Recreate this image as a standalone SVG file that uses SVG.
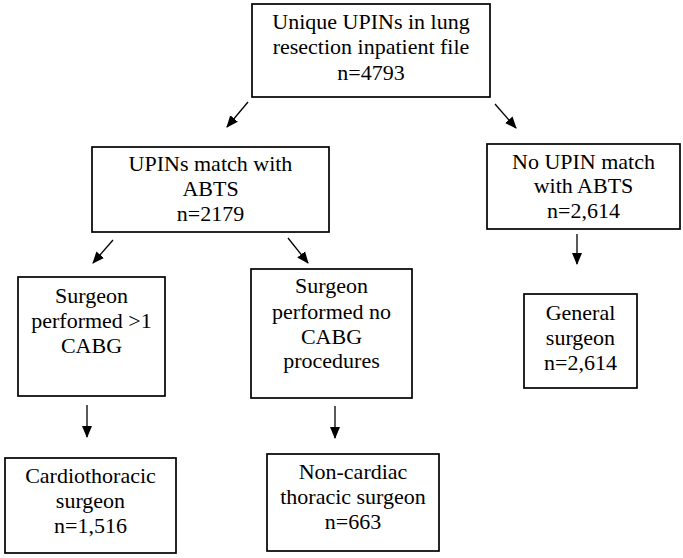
<svg xmlns="http://www.w3.org/2000/svg" width="683" height="558" viewBox="0 0 683 558">
<defs>
<style>
.box{fill:#fff;stroke:#000;stroke-width:1.7}
.t{font-family:'Liberation Serif','DejaVu Serif',serif;font-size:22px;fill:#000;text-anchor:middle}
.c{stroke:#000;stroke-width:1.3;fill:none;marker-end:url(#ah)}
</style>
<marker id="ah" markerUnits="userSpaceOnUse" markerWidth="12" markerHeight="12" viewBox="0 0 12 12" refX="11" refY="6" orient="auto">
<path d="M0,1 L12,6 L0,11 Z" fill="#000"/>
</marker>
</defs>
<rect width="683" height="558" fill="#fff"/>
<g id="connectors">
<line class="c" x1="248" y1="102" x2="227" y2="127"/>
<line class="c" x1="495" y1="104" x2="516" y2="128"/>
<line class="c" x1="113" y1="240" x2="93" y2="263"/>
<line class="c" x1="288" y1="238" x2="308" y2="263"/>
<line class="c" x1="577" y1="234" x2="577" y2="264"/>
<line class="c" x1="87" y1="405" x2="87" y2="437"/>
<line class="c" x1="335" y1="406" x2="335" y2="438"/>
</g>
<g id="n1">
<rect class="box" x="252" y="4" width="238" height="93"/>
<text class="t" x="371" y="29" font-family="Liberation Serif, serif">Unique UPINs in lung</text>
<text class="t" x="371" y="54" font-family="Liberation Serif, serif">resection inpatient file</text>
<text class="t" x="371" y="80" font-family="Liberation Serif, serif">n=4793</text>
</g>
<g id="n2">
<rect class="box" x="92" y="147" width="237" height="85"/>
<text class="t" x="210.5" y="171">UPINs match with</text>
<text class="t" x="210.5" y="196">ABTS</text>
<text class="t" x="210.5" y="221">n=2179</text>
</g>
<g id="n3">
<rect class="box" x="487" y="144" width="193" height="85"/>
<text class="t" x="583.5" y="169">No UPIN match</text>
<text class="t" x="583.5" y="193">with ABTS</text>
<text class="t" x="583.5" y="218">n=2,614</text>
</g>
<g id="n4">
<rect class="box" x="18" y="277" width="147" height="119"/>
<text class="t" x="91.5" y="303">Surgeon</text>
<text class="t" x="91.5" y="328">performed &gt;1</text>
<text class="t" x="91.5" y="353">CABG</text>
</g>
<g id="n5">
<rect class="box" x="251" y="269" width="161" height="129"/>
<text class="t" x="331.5" y="293">Surgeon</text>
<text class="t" x="331.5" y="319">performed no</text>
<text class="t" x="331.5" y="344">CABG</text>
<text class="t" x="331.5" y="368">procedures</text>
</g>
<g id="n6">
<rect class="box" x="524" y="294" width="113" height="94"/>
<text class="t" x="580.5" y="320">General</text>
<text class="t" x="580.5" y="345">surgeon</text>
<text class="t" x="580.5" y="370">n=2,614</text>
</g>
<g id="n7">
<rect class="box" x="5" y="458" width="171" height="95"/>
<text class="t" x="90.5" y="483">Cardiothoracic</text>
<text class="t" x="90.5" y="508">surgeon</text>
<text class="t" x="90.5" y="533">n=1,516</text>
</g>
<g id="n8">
<rect class="box" x="267" y="454" width="172" height="97"/>
<text class="t" x="353" y="479">Non-cardiac</text>
<text class="t" x="353" y="504">thoracic surgeon</text>
<text class="t" x="353" y="529">n=663</text>
</g>
</svg>
